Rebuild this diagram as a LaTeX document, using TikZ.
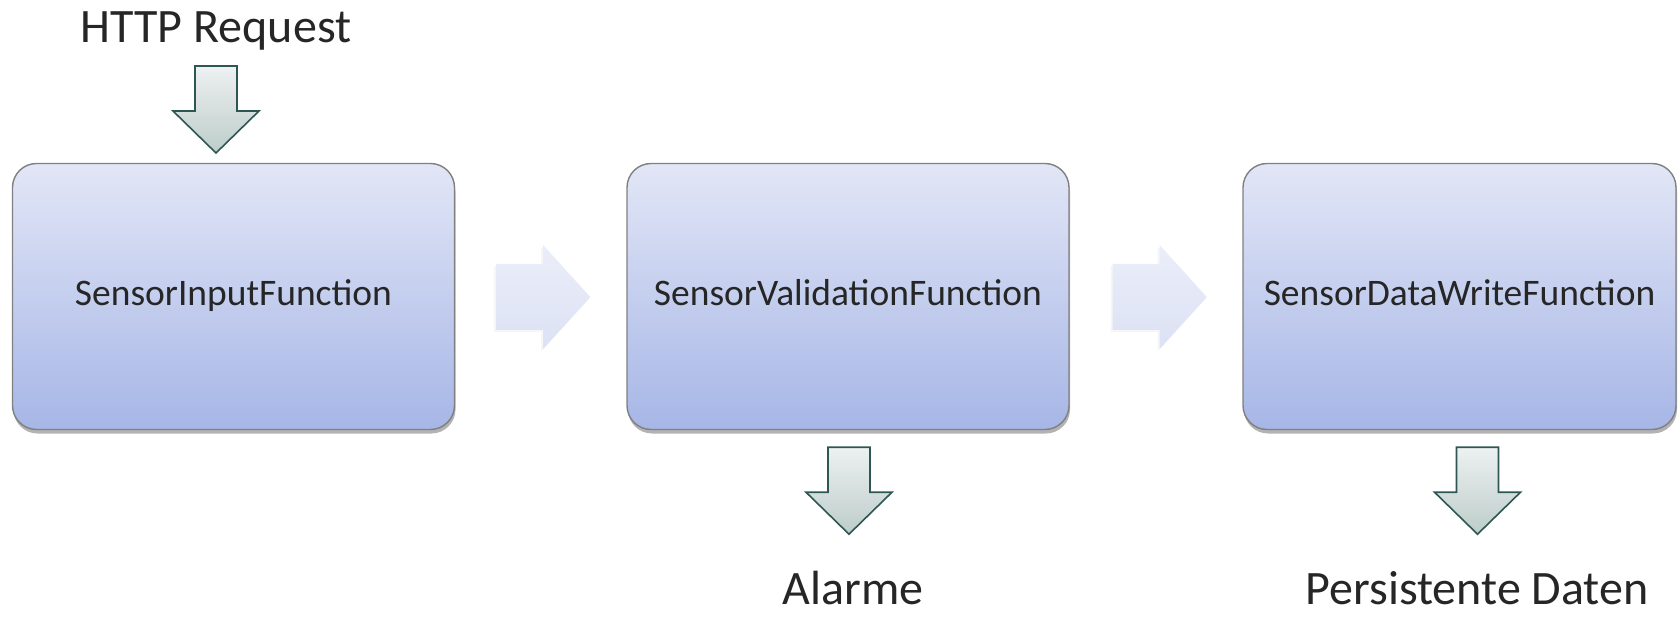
\documentclass[tikz,border=0pt]{standalone}
\usepackage{fontspec}
\setmainfont{Carlito}
\usetikzlibrary{shadows,calc}
\definecolor{boxtop}{HTML}{E2E6F6}
\definecolor{boxbot}{HTML}{A6B6E6}
\definecolor{boxline}{HTML}{808080}
\definecolor{dtop}{HTML}{EDF1F1}
\definecolor{dbot}{HTML}{BDCDC9}
\definecolor{dline}{HTML}{2E5652}
\definecolor{rtop}{HTML}{EBEEF9}
\definecolor{rbot}{HTML}{DCE1F4}
\definecolor{txt}{HTML}{262626}
\tikzset{
  funcbox/.style={draw=boxline, line width=1.4pt, rounded corners=24pt,
    top color=boxtop, bottom color=boxbot, minimum height=266pt,
    inner sep=0pt, text height=19pt, text depth=0pt, text=txt,
    font=\fontsize{37.5}{40}\selectfont,
    drop shadow={shadow xshift=1pt, shadow yshift=-4pt, opacity=0.4, fill=black!75}},
  bigtext/.style={anchor=base, inner sep=0pt, text depth=0pt, text=txt, font=\fontsize{48}{52}\selectfont},
  downarr/.pic={
    \draw[dline, line width=1.6pt, line join=miter, top color=dtop, bottom color=dbot]
      (-21,0) -- (21,0) -- (21,45) -- (43,45) -- (0,87) -- (-43,45) -- (-21,45) -- cycle;
  },
  rightarr/.pic={
    \fill[rbot!80!black, opacity=0.12] (-2,-31) -- (45,-31) -- (45,-50) -- (93,2) -- (45,54) -- (45,35) -- (-2,35) -- cycle;
    \shade[top color=rtop, bottom color=rbot]
      (0,-33) -- (47,-33) -- (47,-52) -- (94,0) -- (47,52) -- (47,33) -- (0,33) -- cycle;
  }
}
\begin{document}
\begin{tikzpicture}[x=1pt,y=-1pt]
\useasboundingbox (0,0) rectangle (1678,617);
\clip (0,0) rectangle (1678,617);

\node[funcbox, minimum width=442pt] (b1) at (233.5,296.5) {SensorInputFunction};
\node[funcbox, minimum width=442pt] (b2) at (848,296.5) {SensorValidationFunction};
\node[funcbox, minimum width=433pt] (b3) at (1459.5,296.5) {SensorDataWriteFunction};

\node[bigtext] (http) at (216,43) {HTTP Request};
\node[bigtext] (alarm) at (853,604) {Alarme};
\node[bigtext] (persist) at (1477,604) {Persistente Daten};

\pic at ($(http.base)+(0,23)$) {downarr};
\pic at ($(b2.south)+(1,17)$) {downarr};
\pic at ($(b3.south)+(18,17)$) {downarr};

\pic at ($(b1.east)+(41,0.5)$) {rightarr};
\pic at ($(b2.east)+(43,0.5)$) {rightarr};
\end{tikzpicture}
\end{document}
